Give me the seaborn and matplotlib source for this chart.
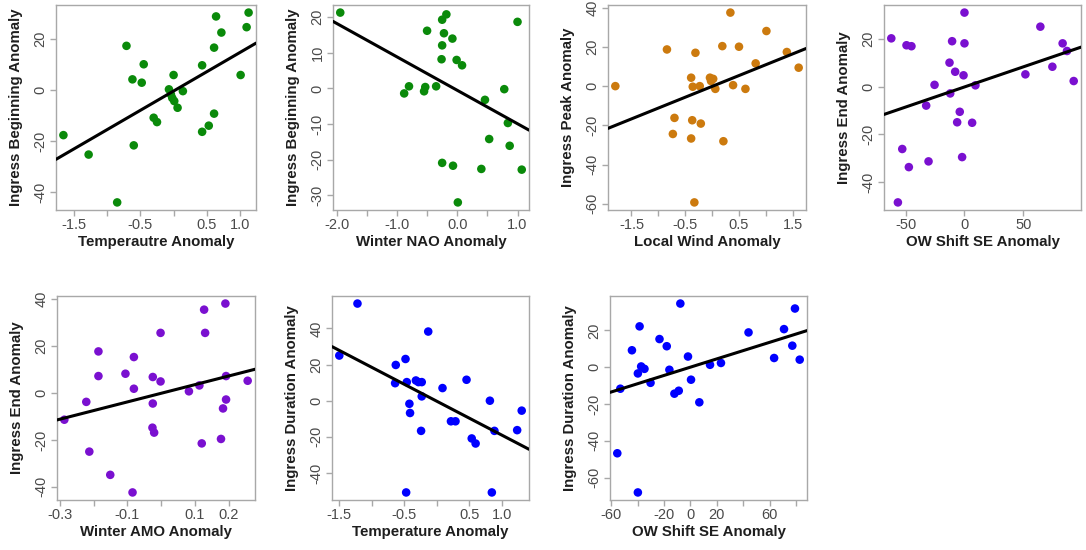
import matplotlib
matplotlib.use("Agg")
import matplotlib.pyplot as plt
import seaborn as sns
import numpy as np

# ---------------- data ----------------
GREEN = "#0a8a0a"
ORANGE = "#cc7a0e"
PURPLE = "#7a10d0"
BLUE = "#0000ff"

# Panel 1: Temperature vs Ingress Beginning
p1_x = [-1.66, -1.28, -0.85, -0.71, -0.62, -0.60, -0.45, -0.48, -0.30, -0.25, -0.07, -0.04, -0.02,
        0.01, 0.06, 0.00, 0.14, 0.43, 0.43, 0.53, 0.61, 0.61, 0.64, 0.72, 1.01, 1.10, 1.13]
p1_y = [-17.6, -25.2, -43.9, 17.3, 4.2, -21.6, 10.1, 2.9, -10.8, -12.5, 0.3, -1.7, -3.1,
        -4.3, -6.9, 5.9, -0.4, 9.7, -16.3, -13.9, -9.2, 16.6, 28.8, 22.5, 5.9, 24.6, 30.3]

# Panel 2: Winter NAO vs Ingress Beginning
p2_x = [-1.94, -0.88, -0.80, -0.50, -0.55, -0.53, -0.35, -0.26, -0.25, -0.25, -0.18, -0.22, -0.08,
        -0.01, 0.08, -0.25, -0.07, 0.01, 0.40, 0.46, 0.53, 0.78, 0.84, 0.87, 1.00, 1.07]
p2_y = [21.3, -1.4, 0.6, 16.2, -0.8, 0.4, 0.6, 8.2, 12.1, 19.3, 20.8, 15.5, 14.0,
        8.0, 6.5, -20.9, -21.7, -32.0, -22.6, -3.2, -14.2, -0.2, -9.7, -16.1, 18.7, -22.8]

# Panel 3: Local Wind vs Ingress Peak
p3_x = [-1.80, -0.84, -0.31, -0.70, -0.73, -0.39, -0.36, -0.37, -0.21, -0.39, -0.33, -0.23, -0.04,
        -0.02, 0.02, 0.06, 0.19, 0.21, 0.34, 0.39, 0.50, 0.62, 0.81, 1.01, 1.39, 1.61]
p3_y = [0.0, 18.7, 17.0, -16.2, -24.4, 4.3, -0.3, -17.4, -19.1, -26.7, -59.3, 0.0, 4.3,
        2.6, 3.7, -1.4, 20.4, -28.1, 37.5, 0.5, 20.1, -1.4, 11.6, 28.1, 17.4, 9.4]

# Panel 4: OW Shift SE vs Ingress End
p4_x = [-62.1, -56.5, -52.8, -49.2, -45.0, -47.2, -32.5, -30.5, -25.4, -12.7, -12.1, -10.5, -7.9,
        -6.2, -4.0, -2.0, -0.8, 0.0, 0.0, 6.5, 9.3, 51.7, 64.4, 74.6, 83.3, 87.0, 92.7]
p4_y = [20.3, -48.5, -26.1, 17.4, 17.0, -33.7, -7.9, -31.3, 0.8, 10.1, -2.8, 19.1, 6.3,
        -14.9, -10.5, -29.5, 4.8, 31.1, 18.2, -15.1, 0.6, 5.2, 25.2, 8.4, 18.2, 15.0, 2.4]

# Panel 5: Winter AMO vs Ingress End
p5_x = [-0.287, -0.222, -0.213, -0.186, -0.186, -0.151, -0.106, -0.081, -0.081, -0.085, -0.025, -0.025,
        -0.026, -0.021, -0.002, -0.002, 0.082, 0.113, 0.120, 0.127, 0.130, 0.177, 0.183, 0.190, 0.192,
        0.192, 0.256]
p5_y = [-11.4, -3.8, -25.0, 17.7, 7.2, -34.9, 8.2, 15.3, 1.8, -42.4, 6.8, -4.5,
        -14.8, -16.9, 25.6, 4.9, 0.7, 3.2, -21.5, 35.5, 25.6, -19.6, -6.6, 38.1, 7.2,
        -2.8, 5.2]

# Panel 6: Temperature vs Ingress Duration
p6_x = [-1.50, -1.22, -0.63, -0.64, -0.48, -0.46, -0.42, -0.41, -0.47, -0.32, -0.28, -0.23, -0.23,
        -0.24, -0.13, 0.09, 0.22, 0.29, 0.46, 0.54, 0.60, 0.82, 0.89, 0.85, 1.24, 1.31]
p6_y = [25.0, 53.8, 19.8, 9.7, 23.1, 10.3, -1.7, -6.8, -50.8, 11.2, 10.3, 10.3, 2.4,
        -16.7, 38.3, 7.0, -11.4, -11.4, 11.6, -20.9, -23.7, 0.0, -16.7, -50.8, -16.3, -5.5]

# Panel 7: OW Shift SE vs Ingress Duration
p7_x = [-55.4, -53.1, -44.3, -38.5, -39.8, -37.3, -34.8, -39.8, -30.2, -23.4, -17.9, -15.9, -12.1,
        -8.8, -7.6, -1.8, 0.5, 6.8, 14.9, 23.2, 44.1, 63.5, 71.0, 77.3, 79.3, 82.9]
p7_y = [-46.8, -11.7, 9.2, 22.2, -3.4, 0.4, -0.9, -68.1, -8.5, 15.3, 11.4, -1.4, -14.4,
        -12.8, 34.6, 5.8, -6.8, -19.1, 1.3, 2.3, 18.9, 5.0, 20.7, 11.7, 31.9, 4.1]

x_labels = ["Temperautre Anomaly", "Winter NAO Anomaly", "Local Wind Anomaly", "OW Shift SE Anomaly",
            "Winter AMO Anomaly", "Temperature Anomaly", "OW Shift SE Anomaly"]
y_labels = ["Ingress Beginning Anomaly", "Ingress Beginning Anomaly", "Ingress Peak Anomaly",
            "Ingress End Anomaly", "Ingress End Anomaly", "Ingress Duration Anomaly",
            "Ingress Duration Anomaly"]

p1_xticks = [-1.5, -1.0, -0.5, 0.0, 0.5, 1.0]
p1_xticklabels = ["-1.5", "", "-0.5", "", "0.5", "1.0"]
p2_xticks = [-2.0, -1.5, -1.0, -0.5, 0.0, 0.5, 1.0]
p2_xticklabels = ["-2.0", "", "-1.0", "", "0.0", "", "1.0"]
p3_xticks = [-1.5, -1.0, -0.5, 0.0, 0.5, 1.0, 1.5]
p3_xticklabels = ["-1.5", "", "-0.5", "", "0.5", "", "1.5"]
p4_xticks = [-50, 0, 50]
p4_xticklabels = ["-50", "0", "50"]
p5_xticks = [-0.3, -0.2, -0.1, 0.0, 0.1, 0.2]
p5_xticklabels = ["-0.3", "", "-0.1", "", "0.1", "0.2"]
p6_xticks = [-1.5, -1.0, -0.5, 0.0, 0.5, 1.0]
p6_xticklabels = ["-1.5", "", "-0.5", "", "0.5", "1.0"]
p7_xticks = [-60, -40, -20, 0, 20, 40, 60, 80]
p7_xticklabels = ["-60", "", "-20", "0", "20", "", "60", ""]

p1_yticks = [-40, -20, 0, 20]
p2_yticks = [-30, -20, -10, 0, 10, 20]
p3_yticks = [-60, -40, -20, 0, 20, 40]
p4_yticks = [-40, -20, 0, 20]
p5_yticks = [-40, -20, 0, 20, 40]
p6_yticks = [-40, -20, 0, 20, 40]
p7_yticks = [-60, -40, -20, 0, 20]

# ---------------- layout (pixel boxes: left, top, right, bottom) ----------------
W, H = 1086, 550
boxes = [(56, 5, 256, 210), (333, 5, 529, 210), (608, 5, 806, 210), (884, 5, 1081, 210),
         (57, 296, 255, 500), (332, 296, 529, 500), (610, 296, 807, 500)]

panels = [
    (p1_x, p1_y, GREEN, p1_xticks, p1_xticklabels, p1_yticks),
    (p2_x, p2_y, GREEN, p2_xticks, p2_xticklabels, p2_yticks),
    (p3_x, p3_y, ORANGE, p3_xticks, p3_xticklabels, p3_yticks),
    (p4_x, p4_y, PURPLE, p4_xticks, p4_xticklabels, p4_yticks),
    (p5_x, p5_y, PURPLE, p5_xticks, p5_xticklabels, p5_yticks),
    (p6_x, p6_y, BLUE, p6_xticks, p6_xticklabels, p6_yticks),
    (p7_x, p7_y, BLUE, p7_xticks, p7_xticklabels, p7_yticks),
]

sns.set_style("white")
plt.rcParams["font.family"] = ["Liberation Sans", "DejaVu Sans"]

fig = plt.figure(figsize=(W / 100, H / 100), dpi=100)
FRAME = "#a8a8a8"
TICKTXT = "#4a4a4a"
LABTXT = "#1e1e1e"

for i, ((x, y, col, xt, xtl, yt), (l, t, r, b)) in enumerate(zip(panels, boxes)):
    wpx, hpx = r - l, b - t
    ax = fig.add_axes([l / W, 1 - b / H, wpx / W, hpx / H])
    xa, ya = np.asarray(x), np.asarray(y)
    xr = xa.max() - xa.min()
    yr = ya.max() - ya.min()
    ax.set_xlim(xa.min() - 0.04 * xr, xa.max() + 0.04 * xr)
    ax.set_ylim(ya.min() - 0.04 * yr, ya.max() + 0.04 * yr)
    sns.regplot(x=xa, y=ya, ax=ax, ci=None, truncate=False,
                scatter_kws=dict(s=38, color=col, edgecolor="none", alpha=1, zorder=2),
                line_kws=dict(color="black", lw=2.2, zorder=3))
    ax.set_xticks(xt)
    ax.set_xticklabels(xtl)
    ax.set_yticks(yt)
    ax.set_yticklabels([str(v) for v in yt], rotation=90, va="center")
    for sp in ax.spines.values():
        sp.set_visible(True)
        sp.set_color(FRAME)
        sp.set_linewidth(1.0)
    ax.tick_params(axis="both", direction="out", length=4, width=1, color=FRAME,
                   labelsize=10.5, labelcolor=TICKTXT, pad=2,
                   bottom=True, left=True)
    ax.set_xlabel(x_labels[i], fontsize=10.8, fontweight="bold", color=LABTXT)
    ax.set_ylabel(y_labels[i], fontsize=10.8, fontweight="bold", color=LABTXT)
    ax.xaxis.label.set_va("center")
    ax.yaxis.label.set_va("center")
    ax.xaxis.set_label_coords(0.5, -32 / hpx)
    ax.yaxis.set_label_coords(-40 / wpx, 0.5)

fig.savefig("out.png", dpi=100)
